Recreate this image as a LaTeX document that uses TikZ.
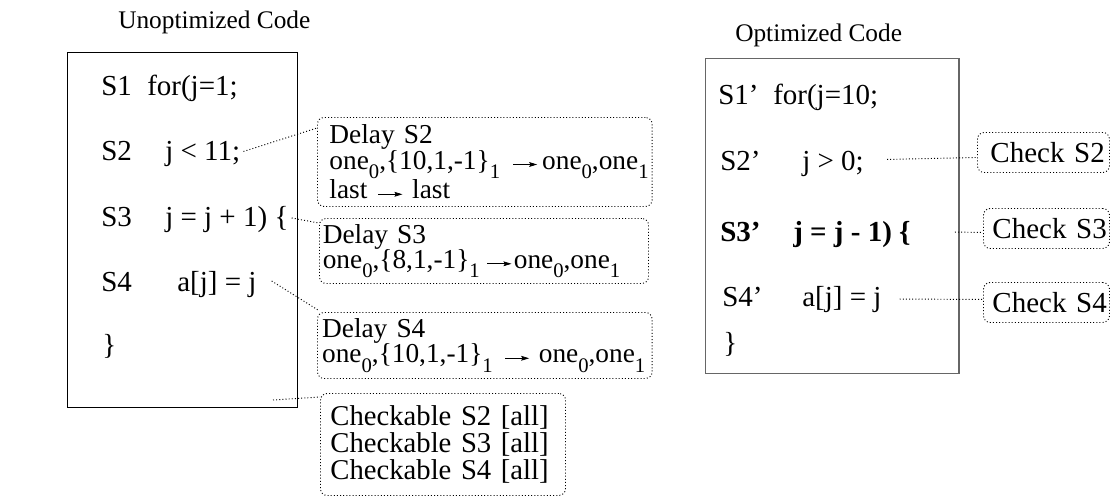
\documentclass[tikz,border=0pt]{standalone}
\usepackage{fontspec}
\setmainfont{Liberation Serif}
\usetikzlibrary{calc,arrows.meta}
% lowered, smaller index text
\newcommand\idx[1]{\raisebox{-0.34em}{\fontsize{15.5}{15.5}\selectfont #1}}
% long thin mapping arrow: gap before, gap after
\newcommand\maps[2]{\hspace{#1}\raisebox{0.08em}{\tikz\draw[line width=0.55pt,
  -{Stealth[length=6pt,width=3.6pt,inset=1pt]}] (0pt,0pt) -- (18pt,0pt);}\hspace{#2}}
\tikzset{
  code/.style={anchor=base west, inner sep=0pt, font=\fontsize{21.75}{26}\selectfont},
  heading/.style={anchor=base west, inner sep=0pt, font=\fontsize{19}{23}\selectfont},
  frame/.style={draw, anchor=north west, inner sep=0pt},
  note/.style={draw, dash pattern=on 0.75pt off 1.6pt, line width=0.7pt, rounded corners=5pt,
    anchor=north west, align=left, inner ysep=0pt},
  link/.style={dash pattern=on 0.75pt off 1.6pt, line width=0.7pt},
}
\begin{document}
\begin{tikzpicture}[x=0.75pt,y=-0.75pt]
\useasboundingbox (0,0) rectangle (1110,500);

% headings
\node[heading] (th1) at (118,28) {Unoptimized Code};
\node[heading] (th2) at (735,41) {Optimized Code};

% code frames
\node[frame, line width=0.9pt, minimum width=172.5pt, minimum height=266.25pt] (ubox) at (67,52) {};
\node[frame, line width=1.1pt, draw=black!60, minimum width=190pt, minimum height=236.25pt] (obox) at (705,58) {};

% unoptimized loop
\node[code] (u1l) at (101,95) {S1};
\node[code] (u1) at (147,95) {for(j=1;};
\node[code] (u2l) at (101,160) {S2};
\node[code] (u2) at (165,160) {j < 11;};
\node[code] (u3l) at (101,226) {S3};
\node[code] (u3) at (165,226) {j = j + 1) \{};
\node[code] (u4l) at (101,291) {S4};
\node[code] (u4) at (177,291) {a[j] = j};
\node[code] (u5) at (102,354) {\}};
\coordinate (uend) at (273,400);

% optimized loop
\node[code] (o1l) at (718,104) {S1’};
\node[code] (o1) at (773,104) {for(j=10;};
\node[code] (o2l) at (720,170) {S2’};
\node[code] (o2) at (802,170) {j > 0;};
\node[code, font=\fontsize{21.75}{26}\selectfont\bfseries] (o3l) at (720,241) {S3’};
\node[code, font=\fontsize{21.75}{26}\selectfont\bfseries] (o3) at (793,241) {j = j - 1) \{};
\node[code] (o4l) at (722,306) {S4’};
\node[code] (o4) at (802,306) {a[j] = j};
\node[code] (o5) at (723,352) {\}};

% delay notes
\begin{scope}[every node/.append style={font=\fontsize{20.5}{20}\selectfont}]
\node[note, inner xsep=9pt, text width=233pt, minimum height=66.75pt] (d2) at (317,117)
  {\mbox{Delay S2}\\[-1pt]
   \mbox{one\idx{0},\{10,1,-1\}\idx{1}\maps{9.5pt}{3.5pt}one\idx{0},one\idx{1}}\\
   \mbox{last\maps{8pt}{7pt}last}};
\node[note, inner xsep=2.5pt, text width=241.75pt, minimum height=48.75pt] (d3) at (319,218)
  {\mbox{Delay S3}\\[-1pt]
   \mbox{one\idx{0},\{8,1,-1\}\idx{1}\maps{5.5pt}{1.5pt}one\idx{0},one\idx{1}}};
\node[note, inner xsep=3.5pt, text width=244pt, minimum height=49.5pt] (d4) at (317,312)
  {\mbox{Delay S4}\\[-1pt]
   \mbox{one\idx{0},\{10,1,-1\}\idx{1}\maps{9pt}{7pt}one\idx{0},one\idx{1}}};
\end{scope}

% checkable summary
\node[note, font=\fontsize{21.5}{20.25}\selectfont, inner xsep=7.5pt, text width=168.75pt,
  minimum height=76.5pt] (chk) at (320,393)
  {\mbox{Checkable S2 [all]}\\ \mbox{Checkable S3 [all]}\\ \mbox{Checkable S4 [all]}};

% check notes
\begin{scope}[every node/.append style={font=\fontsize{21.75}{26}\selectfont}]
\node[note, inner xsep=9.75pt, text width=79.5pt, minimum height=30pt] (k2) at (977,132) {\mbox{Check S2}};
\node[note, inner xsep=6.75pt, text width=81pt, minimum height=30pt] (k3) at (983,208) {\mbox{Check S3}};
\node[note, inner xsep=6.75pt, text width=81pt, minimum height=30pt] (k4) at (983,282) {\mbox{Check S4}};
\end{scope}

% connectors
\draw[link] ($(u2.east)+(3,-2)$) -- ($(d2.north west)+(0,11)$);
\draw[link] ($(u3.east)+(3,-1)$) -- ($(d3.north west)+(0,5)$);
\draw[link] ($(u4.east)+(15,-3)$) -- ($(d4.north west)+(1,-2)$);
\draw[link] (uend) -- ($(chk.north west)+(0,4)$);
\draw[link] ($(o2.east)+(23,-4)$) -- ($(k2.west)+(0,5)$);
\draw[link] ($(o3.east)+(44,-2)$) -- ($(k3.west)+(0,4)$);
\draw[link] ($(o4.east)+(18,0)$) -- ($(k4.west)+(0,-3)$);
\end{tikzpicture}
\end{document}
